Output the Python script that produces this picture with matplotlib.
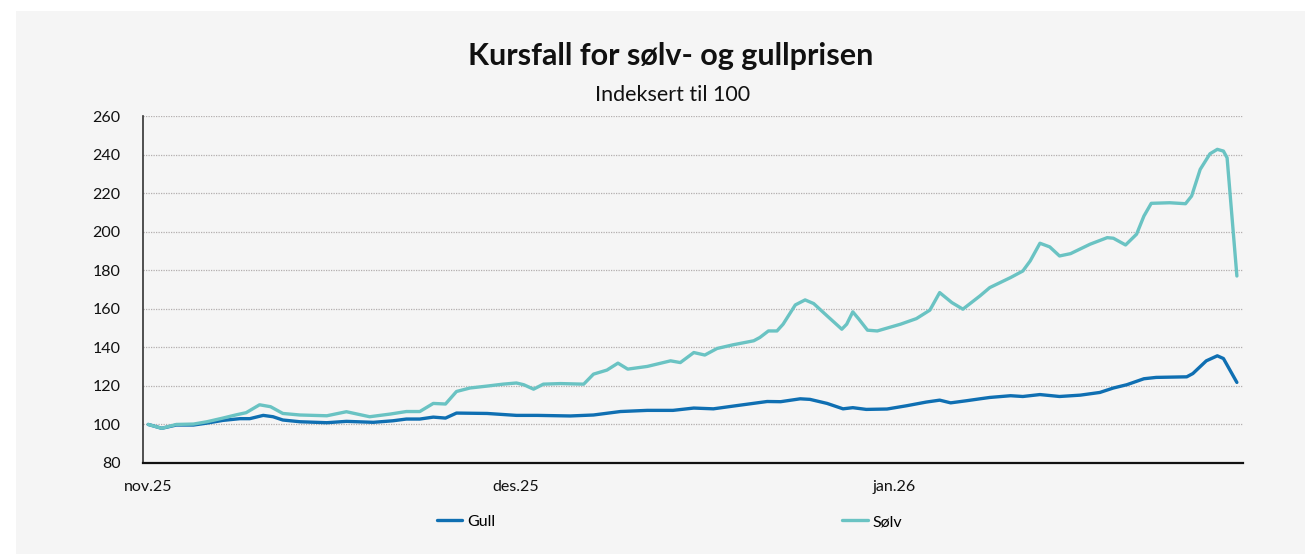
import matplotlib
matplotlib.use("Agg")
import matplotlib.pyplot as plt
import matplotlib.patches as mpatches
import pandas as pd

# ---- data ----
start_date = "2025-11-01"
tick_dates = ["2025-11-01", "2025-12-01", "2026-01-01"]
tick_labels = ["nov.25", "des.25", "jan.26"]

solv_dager = [0, 1.1, 2.3, 3.7, 4.8, 6.1, 7.2, 8.0, 9.1, 10.0, 11.0, 12.4, 14.6, 16.2, 18.1,
              19.8, 21.1, 22.2, 23.3, 24.3, 25.2, 26.3, 27.7, 29.0, 30.1, 30.7, 31.5, 32.3,
              33.7, 35.6, 36.4, 37.5, 38.4, 39.2, 40.8, 42.7, 43.5, 44.6, 45.5, 46.5, 47.8,
              49.5, 50.0, 50.7, 51.4, 51.9, 52.9, 53.7, 54.4, 55.5, 56.7, 57.1, 57.6, 58.1,
              58.8, 59.6, 61.5, 62.8, 63.9, 64.7, 65.7, 66.6, 68.0, 68.8, 70.5, 71.5, 72.1,
              72.9, 73.7, 74.5, 75.4, 77.0, 78.4, 78.9, 79.9, 80.8, 81.4, 82.0, 83.5, 84.8,
              85.3, 86.0, 86.8, 87.4, 87.9, 88.2, 89.0]
solv = [100, 98.0, 100.0, 100.2, 101.4, 103.3, 105.0, 106.1, 110.2, 109.2, 105.7, 104.9, 104.5,
        106.6, 104.0, 105.4, 106.7, 106.7, 110.9, 110.6, 117.1, 118.9, 119.9, 120.9, 121.5,
        120.6, 118.3, 120.9, 121.2, 120.9, 126.1, 128.2, 131.8, 128.7, 130.1, 133.0, 132.1,
        137.3, 136.0, 139.4, 141.3, 143.4, 145.1, 148.5, 148.5, 152.0, 162.0, 164.6, 162.7,
        156.3, 149.4, 152.0, 158.4, 154.6, 148.9, 148.5, 152.0, 154.9, 159.3, 168.4, 163.2,
        159.8, 166.7, 171.0, 176.2, 179.6, 184.8, 194.0, 192.1, 187.4, 188.6, 193.5, 196.9,
        196.6, 193.1, 198.7, 208.1, 214.7, 215.0, 214.5, 218.5, 232.3, 240.4, 242.7, 241.8,
        238.3, 177.0]

gull_dager = [0, 1.1, 2.3, 3.7, 4.8, 6.1, 7.5, 8.3, 9.4, 10.2, 11.0, 12.4, 14.6, 16.2, 18.4,
              20.0, 21.1, 22.2, 23.3, 24.3, 25.2, 27.7, 30.1, 31.8, 34.5, 36.4, 38.6, 40.8,
              42.9, 44.6, 46.2, 47.8, 50.6, 51.7, 53.3, 54.1, 55.5, 56.8, 57.6, 58.7, 60.4,
              62.0, 63.6, 64.7, 65.6, 66.9, 68.0, 68.8, 70.5, 71.5, 72.9, 74.5, 76.2, 77.8,
              78.9, 80.0, 81.4, 82.4, 84.9, 85.4, 86.5, 87.4, 87.9, 89.0]
gull = [100, 98.0, 99.7, 99.7, 100.7, 102.1, 103.0, 103.0, 104.7, 104.0, 102.3, 101.4, 100.9,
        101.6, 101.1, 101.9, 102.8, 102.8, 103.8, 103.3, 105.9, 105.7, 104.7, 104.7, 104.4,
        104.9, 106.7, 107.3, 107.3, 108.5, 108.1, 109.5, 111.9, 111.8, 113.3, 113.0, 110.9,
        108.1, 108.7, 107.8, 108.0, 109.7, 111.6, 112.6, 111.2, 112.3, 113.3, 114.0, 114.9,
        114.5, 115.5, 114.5, 115.2, 116.6, 118.9, 120.6, 123.7, 124.4, 124.7, 126.4, 133.0,
        135.6, 134.2, 121.8]

y_ticks = [80, 100, 120, 140, 160, 180, 200, 220, 240, 260]

title = "Kursfall for sølv- og gullprisen"
subtitle = "Indeksert til 100"

# ---- figure ----
plt.rcParams['font.family'] = ['Lato', 'DejaVu Sans']

fig = plt.figure(figsize=(13.05, 5.54), dpi=100, facecolor="white")
bg = mpatches.Rectangle((16 / 1305, 0), 1 - 16 / 1305, 1 - 11 / 554,
                        transform=fig.transFigure, facecolor="#f5f5f5",
                        edgecolor="none", zorder=-10)
fig.patches.append(bg)

ax = fig.add_axes([143 / 1305, 1 - 463 / 554, 1100 / 1305, 347 / 554])
ax.set_facecolor("#f5f5f5")

t0 = pd.Timestamp(start_date)
xs_solv = [t0 + pd.Timedelta(days=d) for d in solv_dager]
xs_gull = [t0 + pd.Timedelta(days=d) for d in gull_dager]

c_gull = "#0f6fb2"
c_solv = "#6ac3c3"
ax.plot(xs_gull, gull, color=c_gull, lw=2.4, solid_joinstyle="round",
        solid_capstyle="round", label="Gull", zorder=3)
ax.plot(xs_solv, solv, color=c_solv, lw=2.4, solid_joinstyle="round",
        solid_capstyle="round", label="Sølv", zorder=3)

ax.set_xlim(t0 + pd.Timedelta(days=-0.43), t0 + pd.Timedelta(days=89.5))
ax.set_ylim(80, 260)
ax.set_yticks(y_ticks)
ax.set_yticklabels([str(v) for v in y_ticks])
ax.set_xticks([pd.Timestamp(d) for d in tick_dates])
ax.set_xticklabels(tick_labels)

for v in y_ticks[1:]:
    ax.axhline(v, color="#b3aeae", lw=0.9, ls=(0, (1, 1)), zorder=1)

for s in ["top", "right"]:
    ax.spines[s].set_visible(False)
ax.spines["left"].set_color("#333333")
ax.spines["left"].set_linewidth(1.2)
ax.spines["bottom"].set_color("#111111")
ax.spines["bottom"].set_linewidth(1.6)
ax.tick_params(axis="both", length=0, labelsize=11.5, colors="#111111")
ax.tick_params(axis="y", pad=16)
ax.tick_params(axis="x", pad=12)

fig.text(0.514, 1 - 56 / 554, title, ha="center", va="center",
         fontsize=22, fontweight="bold", color="#111111")
fig.text(0.515, 1 - 95 / 554, subtitle, ha="center", va="center",
         fontsize=15.5, color="#111111")

leg = fig.legend(loc="center", bbox_to_anchor=(0.513, 1 - 522 / 554), ncol=2,
                 frameon=False, fontsize=11.5, handlelength=1.6, handletextpad=0.3,
                 columnspacing=21.7)

fig.savefig("out.png", dpi=100, facecolor="white")
